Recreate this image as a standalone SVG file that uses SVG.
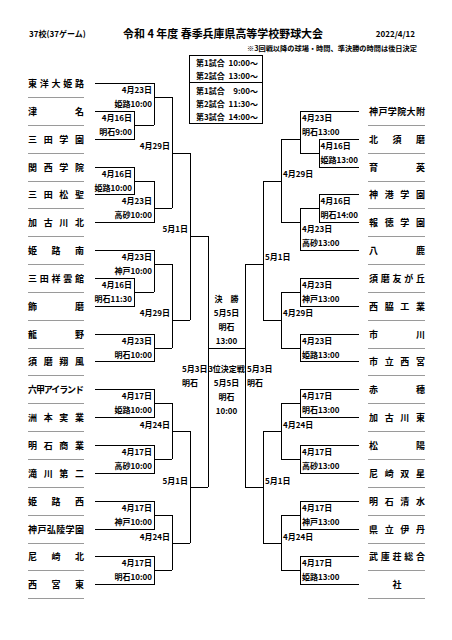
<svg xmlns="http://www.w3.org/2000/svg" width="452" height="640" viewBox="0 0 452 640">
<style>
text{font-family:"Noto Sans CJK JP","Noto Sans",sans-serif;fill:#000;dominant-baseline:central}
.n{font-size:9px;font-weight:bold}
.l{font-size:8px;font-weight:bold}
.e{text-anchor:end}
.m{text-anchor:middle}
.sep{stroke:#9a9a9a;stroke-width:1}
</style>
<rect width="452" height="640" fill="#fff"/>
<g id="header">
<text x="29" y="33" class="l">37校(37ゲーム)</text>
<text x="223" y="33" class="m" style="font-size:11.5px;font-weight:bold" textLength="200" lengthAdjust="spacingAndGlyphs">令和 4 年度 春季兵庫県高等学校野球大会</text>
<text x="415" y="33" class="l e">2022/4/12</text>
<text x="417" y="48" class="e" style="font-size:7px;font-weight:bold" textLength="170" lengthAdjust="spacingAndGlyphs">※3回戦以降の球場・時間、準決勝の時間は後日決定</text>
</g>
<g id="timebox">
<rect x="189.5" y="55.5" width="73" height="68" fill="none" stroke="#000"/>
<line x1="189.5" y1="82.5" x2="262.5" y2="82.5" stroke="#000"/>
<text x="196" y="62" class="l">第1試合</text><text x="258" y="62" class="l e">10:00～</text>
<text x="196" y="75" class="l">第2試合</text><text x="258" y="75" class="l e">13:00～</text>
<text x="196" y="90" class="l">第1試合</text><text x="258" y="90" class="l e">9:00～</text>
<text x="196" y="103" class="l">第2試合</text><text x="258" y="103" class="l e">11:30～</text>
<text x="196" y="116" class="l">第3試合</text><text x="258" y="116" class="l e">14:00～</text>
</g>
<g id="separators" shape-rendering="crispEdges">
<path class="sep" d="M28 97H84M28 125H84M28 153H84M28 181H84M28 208H84M28 236H84M28 264H84M28 292H84M28 320H84M28 348H84M28 375H84M28 403H84M28 431H84M28 459H84M28 487H84M28 515H84M28 543H84M28 570H84M28 598H84"/>
<path class="sep" d="M368 125H425M368 153H425M368 181H425M368 208H425M368 236H425M368 264H425M368 292H425M368 320H425M368 348H425M368 375H425M368 403H425M368 431H425M368 459H425M368 487H425M368 515H425M368 543H425M368 570H425M368 598H425"/>
</g>
<g id="teams-left">
<text id="t-higashiyo" x="28" y="83" class="n" textLength="56" lengthAdjust="spacing">東洋大姫路</text>
<text id="t-tsuna" x="28" y="111" class="n" textLength="56" lengthAdjust="spacing">津名</text>
<text id="t-sandagakuen" x="28" y="139" class="n" textLength="56" lengthAdjust="spacing">三田学園</text>
<text id="t-kwansei" x="28" y="167" class="n" textLength="56" lengthAdjust="spacing">関西学院</text>
<text id="t-sandashosei" x="28" y="194" class="n" textLength="56" lengthAdjust="spacing">三田松聖</text>
<text id="t-kakogawakita" x="28" y="222" class="n" textLength="56" lengthAdjust="spacing">加古川北</text>
<text id="t-himejiminami" x="28" y="250" class="n" textLength="56" lengthAdjust="spacing">姫路南</text>
<text id="t-shounkan" x="28" y="278" class="n" textLength="56" lengthAdjust="spacing">三田祥雲館</text>
<text id="t-shikama" x="28" y="306" class="n" textLength="56" lengthAdjust="spacing">飾磨</text>
<text id="t-tatsuno" x="28" y="334" class="n" textLength="56" lengthAdjust="spacing">龍野</text>
<text id="t-sumashofu" x="28" y="361" class="n" textLength="56" lengthAdjust="spacing">須磨翔風</text>
<text id="t-rokko" x="28" y="389" class="n" textLength="56" lengthAdjust="spacing">六甲アイランド</text>
<text id="t-sumoto" x="28" y="417" class="n" textLength="56" lengthAdjust="spacing">洲本実業</text>
<text id="t-akashisho" x="28" y="445" class="n" textLength="56" lengthAdjust="spacing">明石商業</text>
<text id="t-takigawa2" x="28" y="473" class="n" textLength="56" lengthAdjust="spacing">滝川第二</text>
<text id="t-himejinishi" x="28" y="501" class="n" textLength="56" lengthAdjust="spacing">姫路西</text>
<text id="t-koryo" x="28" y="529" class="n" textLength="56" lengthAdjust="spacing">神戸弘陵学園</text>
<text id="t-amakita" x="28" y="556" class="n" textLength="56" lengthAdjust="spacing">尼崎北</text>
<text id="t-nishinomiyahigashi" x="28" y="584" class="n" textLength="56" lengthAdjust="spacing">西宮東</text>
</g>
<g id="teams-right">
<text id="t-kobegakuin" x="369" y="111" class="n" textLength="56" lengthAdjust="spacing">神戸学院大附</text>
<text id="t-kitasuma" x="369" y="139" class="n" textLength="56" lengthAdjust="spacing">北須磨</text>
<text id="t-ikuei" x="369" y="167" class="n" textLength="56" lengthAdjust="spacing">育英</text>
<text id="t-shinko" x="369" y="194" class="n" textLength="56" lengthAdjust="spacing">神港学園</text>
<text id="t-hotoku" x="369" y="222" class="n" textLength="56" lengthAdjust="spacing">報徳学園</text>
<text id="t-yoka" x="369" y="250" class="n" textLength="56" lengthAdjust="spacing">八鹿</text>
<text id="t-sumatomo" x="369" y="278" class="n" textLength="56" lengthAdjust="spacing">須磨友が丘</text>
<text id="t-nishiwaki" x="369" y="306" class="n" textLength="56" lengthAdjust="spacing">西脇工業</text>
<text id="t-ichikawa" x="369" y="334" class="n" textLength="56" lengthAdjust="spacing">市川</text>
<text id="t-shiritsunishinomiya" x="369" y="361" class="n" textLength="56" lengthAdjust="spacing">市立西宮</text>
<text id="t-ako" x="369" y="389" class="n" textLength="56" lengthAdjust="spacing">赤穂</text>
<text id="t-kakogawahigashi" x="369" y="417" class="n" textLength="56" lengthAdjust="spacing">加古川東</text>
<text id="t-shoyo" x="369" y="445" class="n" textLength="56" lengthAdjust="spacing">松陽</text>
<text id="t-amasousei" x="369" y="473" class="n" textLength="56" lengthAdjust="spacing">尼崎双星</text>
<text id="t-akashishimizu" x="369" y="501" class="n" textLength="56" lengthAdjust="spacing">明石清水</text>
<text id="t-itami" x="369" y="529" class="n" textLength="56" lengthAdjust="spacing">県立伊丹</text>
<text id="t-mukonoso" x="369" y="556" class="n" textLength="56" lengthAdjust="spacing">武庫荘総合</text>
<text id="t-yashiro" x="397" y="584" class="n m">社</text>
</g>
<g id="connectors" fill="none" stroke="#000" stroke-width="1" shape-rendering="crispEdges">
<path d="M95 83H154V125M95 111H134V139H95M134 125H154M154 97H172"/>
<path d="M95 167H134V194H95M134 181H154M95 222H154V181M154 208H172"/>
<path d="M172 97V208M172 153H190"/>
<path d="M95 250H154V292M95 278H134V306H95M134 292H154M154 264H172"/>
<path d="M95 334H154V361H95M154 348H172"/>
<path d="M172 264V348M172 320H190"/>
<path d="M190 153V320M190 236H208"/>
<path d="M95 389H154V417H95M154 403H172"/>
<path d="M95 445H154V473H95M154 459H172"/>
<path d="M172 403V459M172 431H190"/>
<path d="M95 501H154V529H95M154 515H172"/>
<path d="M95 556H154V584H95M154 570H172"/>
<path d="M172 515V570M172 543H190"/>
<path d="M190 431V543"/>
<path d="M208 236V487M245 264V487M208 348H245M190 487H208M245 487H263"/>
<path d="M359 111H300V153M359 139H319V167H359M319 153H300M300 139H281"/>
<path d="M359 194H319V222H359M319 208H300M359 250H300V208M300 222H281"/>
<path d="M281 139V222M281 181H263"/>
<path d="M359 278H300V306H359M300 292H281"/>
<path d="M359 334H300V361H359M300 348H281"/>
<path d="M281 292V348M281 320H263"/>
<path d="M263 181V320M263 264H245"/>
<path d="M359 389H300V417H359M300 403H281"/>
<path d="M359 445H300V473H359M300 459H281"/>
<path d="M281 403V459M281 431H263"/>
<path d="M359 501H300V529H359M300 515H281"/>
<path d="M359 556H300V584H359M300 570H281"/>
<path d="M281 515V570M281 543H263"/>
<path d="M263 431V543"/>
</g>
<g id="labels-left" class="l">
<text x="132" y="117.5" class="l e">4月16日</text><text x="132" y="131" class="l e">明石9:00</text>
<text x="132" y="173.5" class="l e">4月16日</text><text x="132" y="187" class="l e">姫路10:00</text>
<text x="132" y="284.5" class="l e">4月16日</text><text x="132" y="298" class="l e">明石11:30</text>
<text x="152" y="89.5" class="l e">4月23日</text><text x="152" y="103" class="l e">姫路10:00</text>
<text x="152" y="200.5" class="l e">4月23日</text><text x="152" y="214" class="l e">高砂10:00</text>
<text x="152" y="256.5" class="l e">4月23日</text><text x="152" y="270" class="l e">神戸10:00</text>
<text x="152" y="340.5" class="l e">4月23日</text><text x="152" y="354" class="l e">明石10:00</text>
<text x="152" y="395.5" class="l e">4月17日</text><text x="152" y="409" class="l e">姫路10:00</text>
<text x="152" y="451.5" class="l e">4月17日</text><text x="152" y="465" class="l e">高砂10:00</text>
<text x="152" y="507.5" class="l e">4月17日</text><text x="152" y="521" class="l e">神戸10:00</text>
<text x="152" y="562.5" class="l e">4月17日</text><text x="152" y="576" class="l e">明石10:00</text>
<text x="170" y="145" class="l e">4月29日</text>
<text x="170" y="312" class="l e">4月29日</text>
<text x="170" y="424" class="l e">4月24日</text>
<text x="170" y="536" class="l e">4月24日</text>
<text x="188" y="228" class="l e">5月1日</text>
<text x="188" y="480" class="l e">5月1日</text>
</g>
<g id="labels-right">
<text x="320.5" y="145.5" class="l">4月16日</text><text x="320.5" y="159" class="l">姫路13:00</text>
<text x="320.5" y="200.5" class="l">4月16日</text><text x="320.5" y="214" class="l">明石14:00</text>
<text x="302" y="117" class="l">4月23日</text><text x="302" y="131" class="l">明石13:00</text>
<text x="302" y="228.5" class="l">4月23日</text><text x="302" y="242" class="l">高砂13:00</text>
<text x="302" y="284.5" class="l">4月23日</text><text x="302" y="298" class="l">神戸13:00</text>
<text x="302" y="340.5" class="l">4月23日</text><text x="302" y="354" class="l">姫路13:00</text>
<text x="302" y="395.5" class="l">4月17日</text><text x="302" y="409" class="l">明石13:00</text>
<text x="302" y="451.5" class="l">4月17日</text><text x="302" y="465" class="l">高砂13:00</text>
<text x="302" y="507.5" class="l">4月17日</text><text x="302" y="521" class="l">神戸13:00</text>
<text x="302" y="562.5" class="l">4月17日</text><text x="302" y="576" class="l">姫路13:00</text>
<text x="283" y="173.5" class="l">4月29日</text>
<text x="283" y="312.5" class="l">4月29日</text>
<text x="283" y="424" class="l">4月24日</text>
<text x="283" y="536" class="l">4月24日</text>
<text x="265" y="256.5" class="l">5月1日</text>
<text x="265" y="480" class="l">5月1日</text>
</g>
<g id="final">
<text x="226.5" y="298" class="l m">決　勝</text>
<text x="226.5" y="312" class="l m">5月5日</text>
<text x="226.5" y="326" class="l m">明石</text>
<text x="226.5" y="340" class="l m">13:00</text>
</g>
<g id="third-place">
<text x="226.5" y="368" class="l m">3位決定戦</text>
<text x="226.5" y="382" class="l m">5月5日</text>
<text x="226.5" y="396" class="l m">明石</text>
<text x="226.5" y="410" class="l m">10:00</text>
</g>
<g id="semifinal-labels">
<text x="182" y="368" class="l">5月3日</text>
<text x="182" y="382" class="l">明石</text>
<text x="247" y="368" class="l">5月3日</text>
<text x="247" y="382" class="l">明石</text>
</g>
</svg>
